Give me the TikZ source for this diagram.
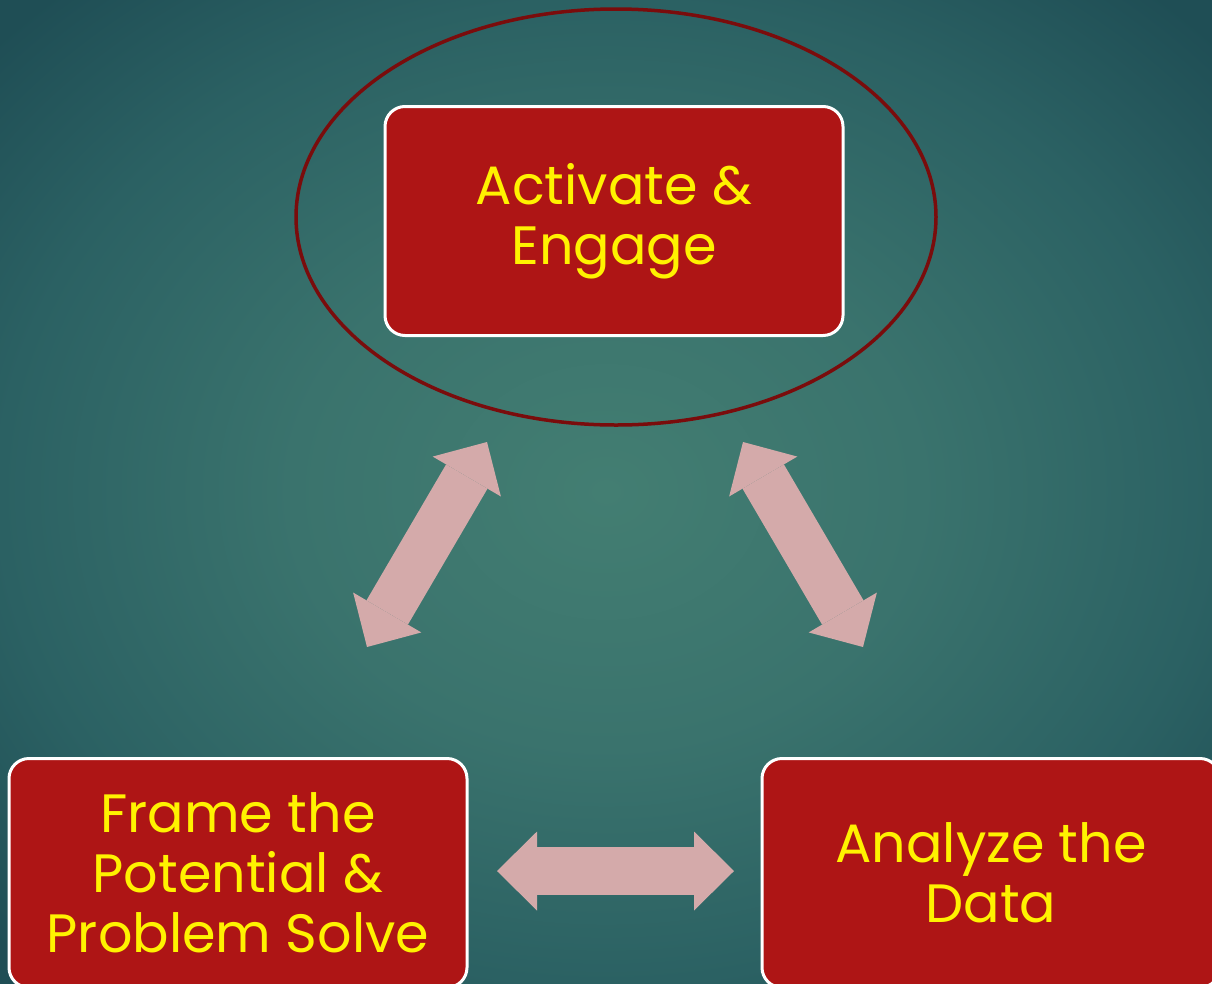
\documentclass[tikz,border=0pt]{standalone}
\usepackage{fontspec}
\setmainfont{Poppins}
\usetikzlibrary{arrows.meta}

\definecolor{boxred}{HTML}{AE1515}
\definecolor{ringred}{HTML}{7A0C0C}
\definecolor{arrowpink}{HTML}{D4AAAA}
\definecolor{bglight}{HTML}{437E72}
\definecolor{bgsoft}{HTML}{3A736D}
\definecolor{bgmid}{HTML}{2B6163}
\definecolor{bgdark}{HTML}{1F4E55}
% sides of the page sit at 25bp, corners at about 35bp
\pgfdeclareradialshading{tealglow}{\pgfpoint{0bp}{0bp}}%
  {color(0bp)=(bglight); color(13bp)=(bgsoft); color(25bp)=(bgmid); color(34bp)=(bgdark); color(50bp)=(bgdark)}

\tikzset{
  stage/.style={rectangle,rounded corners=20pt,draw=white,line width=3pt,
    fill=boxred,text=yellow,minimum width=458pt,minimum height=229pt,
    inner sep=0pt,align=center,font=\fontsize{54}{60}\selectfont},
  twoway/.style={arrowpink,line width=48pt,
    {Triangle[length=40pt,width=79pt,line width=0pt]}-{Triangle[length=40pt,width=79pt,line width=0pt]}}
}

\begin{document}
\begin{tikzpicture}[x=1pt,y=-1pt]
\useasboundingbox (0,0) rectangle (1212,983);
\clip (0,0) rectangle (1212,983);
\shade[shading=tealglow] (0,0) rectangle (1212,983);

% ring round the first stage
\draw[ringred,line width=3.5pt] (616,217) ellipse [x radius=320,y radius=208];

\path node (act) at (614,221) [stage] {Activate \&\\Engage}
node (frame) at (238,873) [stage] {Frame the\\Potential \&\\Problem Solve}
node (data) at (991,873) [stage] {Analyze the\\Data};

% arrow ends
\coordinate (l1) at (367,647);
\coordinate (l2) at (487,442);
\coordinate (r1) at (743,442);
\coordinate (r2) at (863,647);
\coordinate (h1) at (497,871);
\coordinate (h2) at (734,871);
\draw[twoway] (l1) -- (l2);
\draw[twoway] (r1) -- (r2);
\draw[twoway] (h1) -- (h2);
\end{tikzpicture}
\end{document}
